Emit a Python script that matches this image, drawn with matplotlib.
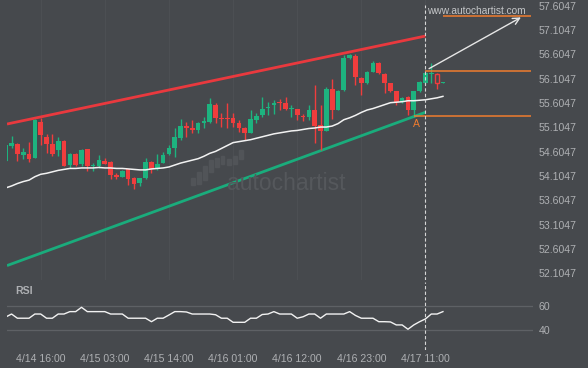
import matplotlib
matplotlib.use("Agg")
import matplotlib.pyplot as plt
from matplotlib.patches import Rectangle

plt.rcParams['font.family'] = ['Liberation Sans', 'DejaVu Sans']

# hourly candles, index 0 = first bar on the left
opens = [54.41, 54.73, 54.77, 54.54, 54.56, 54.48, 55.22, 54.90, 54.76, 54.64,
         54.82, 54.33, 54.56, 54.35, 54.65, 54.30, 54.32, 54.41, 54.39, 54.12,
         54.09, 54.24, 54.06, 53.97, 54.06, 54.40, 54.25, 54.38, 54.56, 54.67,
         54.88, 55.13, 55.10, 55.05, 55.20, 55.22, 55.56, 55.30, 55.30, 55.29,
         55.19, 55.10, 54.99, 55.25, 55.36, 55.51, 55.56, 55.62, 55.61, 55.49,
         55.48, 55.34, 55.32, 55.46, 55.15, 55.03, 55.90, 55.47, 55.87, 56.52,
         56.57, 56.11, 56.02, 56.25, 56.43, 56.19, 56.01, 55.85, 55.63, 55.72,
         55.46, 55.84, 56.02, 56.20, 56.20, 56.02]
highs = [54.74, 54.92, 54.79, 54.67, 54.80, 55.27, 55.29, 54.96, 54.96, 54.91,
         54.84, 54.58, 54.58, 54.65, 54.66, 54.38, 54.54, 54.48, 54.41, 54.17,
         54.23, 54.24, 54.08, 54.07, 54.47, 54.42, 54.56, 54.59, 54.75, 55.10,
         55.27, 55.22, 55.25, 55.22, 55.31, 55.70, 55.60, 55.39, 55.60, 55.39,
         55.26, 55.12, 55.46, 55.39, 55.73, 55.63, 55.67, 55.68, 55.73, 55.56,
         55.49, 55.38, 55.56, 55.97, 55.56, 55.94, 56.09, 55.87, 56.59, 56.61,
         56.61, 56.13, 56.26, 56.47, 56.45, 56.21, 56.02, 55.86, 55.72, 55.74,
         55.85, 56.06, 56.23, 56.42, 56.21, 56.03]
lows = [54.41, 54.68, 54.42, 54.45, 54.40, 54.47, 54.74, 54.57, 54.51, 54.51,
        54.31, 54.26, 54.31, 54.32, 54.21, 54.21, 54.26, 54.35, 54.04, 54.04,
        54.08, 53.92, 53.83, 53.90, 54.04, 54.16, 54.23, 54.37, 54.54, 54.50,
        54.84, 54.91, 54.98, 54.98, 55.08, 55.19, 55.19, 55.12, 55.10, 55.12,
        55.01, 54.84, 54.98, 55.19, 55.32, 55.36, 55.38, 55.46, 55.45, 55.32,
        55.26, 55.24, 55.26, 54.78, 54.64, 55.02, 55.27, 55.46, 55.86, 56.50,
        55.97, 55.77, 56.00, 56.23, 56.20, 55.80, 55.82, 55.56, 55.61, 55.36,
        55.32, 55.82, 56.00, 56.01, 55.89, 56.01]
closes = [54.74, 54.78, 54.56, 54.60, 54.45, 55.25, 54.95, 54.76, 54.56, 54.82,
          54.32, 54.56, 54.33, 54.64, 54.30, 54.33, 54.43, 54.36, 54.12, 54.09,
          54.21, 54.04, 53.95, 54.06, 54.40, 54.24, 54.35, 54.54, 54.67, 54.91,
          55.13, 55.10, 55.04, 55.20, 55.24, 55.58, 55.29, 55.27, 55.27, 55.20,
          55.10, 54.99, 55.27, 55.34, 55.48, 55.53, 55.60, 55.60, 55.48, 55.51,
          55.36, 55.31, 55.46, 55.13, 55.03, 55.89, 55.46, 55.86, 56.52, 56.59,
          56.14, 56.02, 56.25, 56.42, 56.21, 56.02, 55.84, 55.63, 55.70, 55.47,
          55.84, 56.04, 56.21, 56.21, 56.02, 56.03]
hollow = [74]

ma = [53.86, 53.90, 53.95, 53.99, 54.02, 54.09, 54.14, 54.16, 54.19, 54.22,
      54.24, 54.26, 54.26, 54.27, 54.27, 54.27, 54.28, 54.27, 54.27, 54.26,
      54.26, 54.25, 54.24, 54.23, 54.23, 54.25, 54.26, 54.27, 54.29, 54.33,
      54.37, 54.40, 54.43, 54.46, 54.51, 54.57, 54.61, 54.67, 54.73, 54.79,
      54.81, 54.83, 54.85, 54.88, 54.91, 54.94, 54.97, 54.99, 55.01, 55.03,
      55.04, 55.06, 55.08, 55.09, 55.11, 55.11, 55.13, 55.18, 55.26, 55.30,
      55.35, 55.41, 55.46, 55.49, 55.53, 55.57, 55.61, 55.62, 55.63, 55.65,
      55.65, 55.66, 55.67, 55.69, 55.71, 55.74]

rsi_vals = [50.8, 53.3, 49.8, 49.8, 49.8, 53.3, 53.3, 49.8, 49.8, 53.3,
            53.3, 55.3, 55.3, 58.9, 55.3, 55.3, 55.3, 55.3, 53.3, 53.3,
            53.3, 49.8, 49.8, 49.8, 49.8, 46.9, 49.8, 49.8, 52.5, 55.3,
            55.3, 55.0, 53.3, 53.3, 53.3, 53.3, 52.7, 49.8, 49.8, 46.4,
            46.4, 46.4, 49.8, 49.8, 52.9, 53.3, 55.3, 53.3, 53.3, 53.3,
            49.8, 51.0, 53.3, 53.3, 49.8, 53.3, 53.3, 53.3, 53.3, 55.3,
            52.1, 49.8, 49.8, 49.8, 46.9, 46.9, 46.7, 44.2, 44.2, 40.6,
            44.2, 46.9, 49.2, 53.3, 53.3, 55.3]

# channel lines (bar index, price)
upper_x = [0.22, 72]
upper_y = [55.172, 56.979]
lower_x = [0.22, 72]
lower_y = [52.265, 55.413]

# pattern levels / forecast
level_high = 56.267
level_low = 55.330
target = 57.38
arrow_start = (72.2, 56.281)
arrow_end = (88.8, 57.39)
point_a = (70.5, 55.27)
now_idx = 72

xtick_pos = [6, 17, 28, 39, 50, 61, 72]
xtick_labels = ['4/14 16:00', '4/15 03:00', '4/15 14:00', '4/16 01:00',
                '4/16 12:00', '4/16 23:00', '4/17 11:00']
ytick_vals = [52.1047, 52.6047, 53.1047, 53.6047, 54.1047, 54.6047,
              55.1047, 55.6047, 56.1047, 56.6047, 57.1047, 57.6047]

BG = '#46494d'
GREEN = '#1db37f'
RED = '#f03d3d'
ORANGE = '#f07c2e'
TXT = '#aeb0b3'

W, H = 588, 368
fig = plt.figure(figsize=(W / 100, H / 100), dpi=100)
fig.patch.set_facecolor(BG)


def px_axes(l, t, r, b):
    return fig.add_axes([l / W, 1 - b / H, (r - l) / W, (b - t) / H])


ax = px_axes(7, 0, 533, 280)
rs = px_axes(7, 282, 533, 350)
for a in (ax, rs):
    a.set_facecolor(BG)
    for s in a.spines.values():
        s.set_visible(False)
    a.set_xlim(0.22, 90.45)
    a.tick_params(length=0, colors=TXT, labelsize=7.6)
    a.yaxis.tick_right()

# watermark
fig.text(286 / W, 1 - 184 / H, 'autochartist', color='#55585c', fontsize=16.5,
         ha='center', va='center', zorder=0)
bars = [(191, 178, 7), (197, 172, 12), (203, 166, 14), (209, 160, 12),
        (215, 158, 9), (221, 156, 8), (227, 159, 6), (233, 156, 8), (239, 150, 9)]
for bx, by, bh in bars:
    fig.patches.append(Rectangle((bx / W, 1 - (by + bh) / H), 3.5 / W, bh / H,
                                 transform=fig.transFigure, color='#515458', zorder=0))

ax.set_ylim(51.969, 57.7187)
ax.set_yticks(ytick_vals)
ax.set_yticklabels(['%.4f' % v for v in ytick_vals])
ax.tick_params(axis='y', pad=4)
ax.set_xticks(xtick_pos)
ax.set_xticklabels([])
ax.grid(axis='x', color='#4c4f53', lw=0.8)

# candles
for i in range(len(opens)):
    o, h, l, c = opens[i], highs[i], lows[i], closes[i]
    col = GREEN if c >= o else RED
    ax.vlines(i, l, h, color=col, lw=1, zorder=3)
    body = max(abs(c - o), 0.02)
    if i in hollow:
        ax.bar(i, body, bottom=min(o, c), width=0.72, facecolor=BG,
               edgecolor=col, lw=1, zorder=4)
    else:
        ax.bar(i, body, bottom=min(o, c), width=0.8, color=col, lw=0, zorder=4)

ax.plot(range(len(ma)), ma, color='#f2f2f2', lw=1.1, zorder=5)
ax.plot(upper_x, upper_y, color='#e9393e', lw=2, solid_capstyle='butt', zorder=2)
ax.plot(lower_x, lower_y, color='#1aac7c', lw=2, solid_capstyle='butt', zorder=2)

ax.hlines([level_high], now_idx, 90.05, color=ORANGE, lw=1.1, zorder=6)
ax.hlines([level_low], 70, 90.05, color=ORANGE, lw=1.1, zorder=6)
ax.hlines([target], 75, 90.05, color=ORANGE, lw=1.1, zorder=6)
ax.annotate('', xy=arrow_end, xytext=arrow_start,
            arrowprops=dict(arrowstyle='->', color='#e6e6e6', lw=1,
                            mutation_scale=12), zorder=7)
ax.text(point_a[0], point_a[1], 'A', color=ORANGE, fontsize=7.5,
        ha='center', va='top', zorder=7)
ax.axvline(now_idx, ymax=1 - 5 / 280, color='#d6d6d6', lw=0.8,
           ls=(0, (3, 2)), zorder=6)

fig.text(476 / W, 1 - 11 / H, 'www.autochartist.com', color='#c4c6c8',
         fontsize=7.3, ha='center', va='center')

# RSI panel
rs.set_ylim(23.3, 80)
rs.set_yticks([40, 60])
rs.set_yticklabels(['40', '60'])
rs.tick_params(axis='y', pad=4)
rs.axhline(60, color='#5e6165', lw=0.9)
rs.axhline(40, color='#5e6165', lw=0.9)
rs.plot(range(len(rsi_vals)), rsi_vals, color='#f2f2f2', lw=1, zorder=3)
rs.axvline(now_idx, color='#d6d6d6', lw=0.8, ls=(0, (3, 2)), zorder=4)
rs.set_xticks(xtick_pos)
rs.set_xticklabels(xtick_labels)
rs.tick_params(axis='x', pad=3)
rs.text(0.0155, 0.87, 'RSI', transform=rs.transAxes,
        color=TXT, fontsize=7.6, fontweight='bold', va='center')

fig.savefig('out.png', dpi=100, facecolor=BG)
